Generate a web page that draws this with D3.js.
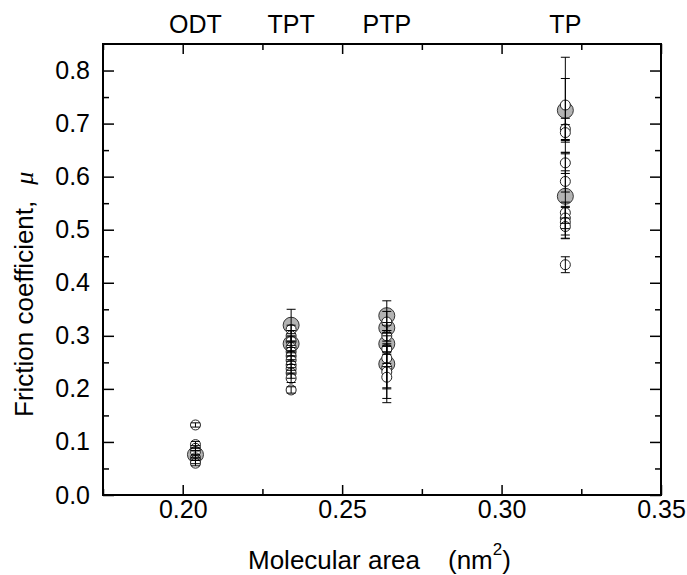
<!DOCTYPE html>
<html>
<head>
<meta charset="utf-8">
<script src="https://cdn.jsdelivr.net/npm/d3@7"></script>
<style>
  body { margin: 0; background: #fff; }
  svg { font-family: Arial, "Liberation Sans", sans-serif; }
</style>
</head>
<body>
<div id="chart"></div>
<script>
// monolayer names and their molecular area (nm2)
const groups = ["ODT", "TPT", "PTP", "TP"];
const areas = [0.204, 0.234, 0.264, 0.320];

// open (small) markers : friction coefficient and error
const openMu = [
    [0.132, 0.095, 0.088, 0.082, 0.070, 0.065, 0.060],
    [0.312, 0.300, 0.290, 0.278, 0.270, 0.262, 0.254, 0.245, 0.238, 0.230, 0.220, 0.198],
    [0.326, 0.300, 0.275, 0.258, 0.240, 0.232, 0.222],
    [0.735, 0.690, 0.683, 0.626, 0.591, 0.532, 0.522, 0.514, 0.506, 0.434]
];
const openErr = [
    [0.004, 0.006, 0.005, 0.006, 0.005, 0.006, 0.005],
    [0.008, 0.010, 0.008, 0.010, 0.008, 0.010, 0.008, 0.010, 0.008, 0.010, 0.008, 0.006],
    [0.020, 0.010, 0.010, 0.010, 0.040, 0.050, 0.020],
    [0.090, 0.020, 0.015, 0.020, 0.020, 0.020, 0.020, 0.030, 0.016, 0.015]
];

// filled (large grey) markers
const filledMu = [
    [0.076],
    [0.320, 0.285],
    [0.338, 0.315, 0.285, 0.247],
    [0.725, 0.563]
];
const filledErr = [
    [0.008],
    [0.030, 0.015],
    [0.028, 0.010, 0.015, 0.073],
    [0.060, 0.080]
];

const xMajor = [0.20, 0.25, 0.30, 0.35];
const xMinor = [0.175, 0.225, 0.275, 0.325];
const yMajor = [0.0, 0.1, 0.2, 0.3, 0.4, 0.5, 0.6, 0.7, 0.8];
const yMinor = [0.05, 0.15, 0.25, 0.35, 0.45, 0.55, 0.65, 0.75];

const W = 687, H = 575;
const margin = { top: 44, right: 26, bottom: 80, left: 103 };
const width = W - margin.left - margin.right;
const height = H - margin.top - margin.bottom;

const svg = d3.select("#chart").append("svg")
    .attr("width", W)
    .attr("height", H);

const g = svg.append("g")
    .attr("transform", `translate(${margin.left},${margin.top})`);

const x = d3.scaleLinear().domain([0.175, 0.35]).range([0, width]);
const y = d3.scaleLinear().domain([0, 0.85]).range([height, 0]);

const fs = 25;   // tick + group labels
const ts = 26;   // axis titles

function styleAxis(sel) {
    sel.select(".domain").remove();
    sel.selectAll(".tick line").attr("stroke", "#000").attr("stroke-width", 1.5);
    sel.selectAll(".tick text").attr("fill", "#000").style("font-size", fs + "px");
}

// bottom
g.append("g").attr("transform", `translate(0,${height})`)
    .call(d3.axisBottom(x).tickValues(xMajor).tickSize(-10).tickPadding(5).tickFormat(d3.format(".2f")))
    .call(styleAxis);
g.append("g").attr("transform", `translate(0,${height})`)
    .call(d3.axisBottom(x).tickValues(xMinor).tickSize(-6).tickFormat(""))
    .call(styleAxis);
// top
g.append("g")
    .call(d3.axisTop(x).tickValues(xMajor).tickSize(-10).tickFormat(""))
    .call(styleAxis);
g.append("g")
    .call(d3.axisTop(x).tickValues(xMinor).tickSize(-6).tickFormat(""))
    .call(styleAxis);
// left
g.append("g")
    .call(d3.axisLeft(y).tickValues(yMajor).tickSize(-11).tickPadding(13).tickFormat(d3.format(".1f")))
    .call(styleAxis);
g.append("g")
    .call(d3.axisLeft(y).tickValues(yMinor).tickSize(-6).tickFormat(""))
    .call(styleAxis);
// right
g.append("g").attr("transform", `translate(${width},0)`)
    .call(d3.axisRight(y).tickValues(yMajor).tickSize(-11).tickFormat(""))
    .call(styleAxis);
g.append("g").attr("transform", `translate(${width},0)`)
    .call(d3.axisRight(y).tickValues(yMinor).tickSize(-6).tickFormat(""))
    .call(styleAxis);

// frame
g.append("rect")
    .attr("width", width)
    .attr("height", height)
    .attr("fill", "none")
    .attr("stroke", "#000")
    .attr("stroke-width", 2);

// flatten points
const filledPts = [], openPts = [];
groups.forEach((name, i) => {
    filledMu[i].forEach((v, j) => filledPts.push({ a: areas[i], mu: v, err: filledErr[i][j] }));
    openMu[i].forEach((v, j) => openPts.push({ a: areas[i], mu: v, err: openErr[i][j] }));
});

g.selectAll(".filled")
    .data(filledPts)
    .enter().append("circle")
    .attr("class", "filled")
    .attr("cx", d => x(d.a))
    .attr("cy", d => y(d.mu))
    .attr("r", 8)
    .attr("fill", "#b3b3b3")
    .attr("stroke", "#333")
    .attr("stroke-width", 1);

g.selectAll(".open")
    .data(openPts)
    .enter().append("circle")
    .attr("class", "open")
    .attr("cx", d => x(d.a))
    .attr("cy", d => y(d.mu))
    .attr("r", 5)
    .attr("fill", "#fff")
    .attr("stroke", "#222")
    .attr("stroke-width", 1);

// error bars on top
const allPts = filledPts.concat(openPts);
const eb = g.selectAll(".err")
    .data(allPts)
    .enter().append("g")
    .attr("class", "err")
    .attr("stroke", "#000")
    .attr("stroke-width", 1);

eb.append("line")
    .attr("x1", d => x(d.a)).attr("x2", d => x(d.a))
    .attr("y1", d => y(d.mu + d.err)).attr("y2", d => y(d.mu - d.err));
eb.append("line")
    .attr("x1", d => x(d.a) - 4.5).attr("x2", d => x(d.a) + 4.5)
    .attr("y1", d => y(d.mu + d.err)).attr("y2", d => y(d.mu + d.err));
eb.append("line")
    .attr("x1", d => x(d.a) - 4.5).attr("x2", d => x(d.a) + 4.5)
    .attr("y1", d => y(d.mu - d.err)).attr("y2", d => y(d.mu - d.err));

// group names above the frame
g.selectAll(".glabel")
    .data(groups)
    .enter().append("text")
    .attr("class", "glabel")
    .attr("x", (d, i) => x(areas[i]))
    .attr("y", -11)
    .attr("text-anchor", "middle")
    .style("font-size", fs + "px")
    .text(d => d);

// x axis title
const xt = svg.append("text")
    .attr("x", 248)
    .attr("y", 569)
    .style("font-size", ts + "px");
xt.append("tspan").text("Molecular area");
xt.append("tspan").attr("dx", 28).text("(nm");
xt.append("tspan").attr("dy", -14).style("font-size", "17px").text("2");
xt.append("tspan").attr("dy", 14).text(")");

// y axis title
const yt = svg.append("text")
    .attr("transform", "translate(33,417) rotate(-90)")
    .style("font-size", ts + "px");
yt.append("tspan").text("Friction coefficient,");
yt.append("tspan").attr("dx", 16).style("font-style", "italic").style("font-family", "'Liberation Serif', 'Times New Roman', serif").text("μ");
</script>
</body>
</html>
